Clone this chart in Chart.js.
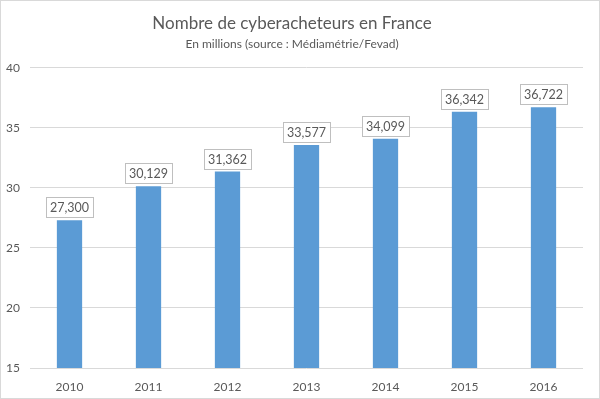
<!DOCTYPE html>
<html>
<head>
<meta charset="utf-8">
<script src="https://cdn.jsdelivr.net/npm/chart.js@4/dist/chart.umd.min.js"></script>
<style>
  html, body { margin: 0; padding: 0; background: #fff; }
  #wrap { width: 598px; height: 397px; border: 1px solid #d9d9d9; position: relative; }
</style>
</head>
<body>
<div id="wrap"><canvas id="graphique"></canvas></div>
<script>
// donnees
const annees = ["2010", "2011", "2012", "2013", "2014", "2015", "2016"];
const cyberacheteurs = [27.300, 30.129, 31.362, 33.577, 34.099, 36.342, 36.722];
const graduations = [15, 20, 25, 30, 35, 40];

const police = "Lato, 'Open Sans', sans-serif";
const gris = "#595959";

// etiquettes de valeur encadrees au-dessus des barres
const etiquettes = {
  id: 'etiquettes',
  afterDatasetsDraw(chart) {
    const ctx = chart.ctx;
    const meta = chart.getDatasetMeta(0);
    ctx.save();
    ctx.font = "12.5px " + police;
    ctx.textAlign = "center";
    ctx.textBaseline = "middle";
    meta.data.forEach((barre, i) => {
      const texte = cyberacheteurs[i].toFixed(3).replace('.', ',');
      const w = ctx.measureText(texte).width + 8;
      const h = 20;
      const x = barre.x - w / 2;
      const y = barre.y - 3 - h;
      ctx.fillStyle = "#fff";
      ctx.fillRect(x, y, w, h);
      ctx.strokeStyle = "#bfbfbf";
      ctx.lineWidth = 1;
      ctx.strokeRect(Math.round(x) + 0.5, Math.round(y) + 0.5, Math.round(w), h);
      ctx.fillStyle = gris;
      ctx.fillText(texte, barre.x, y + h / 2 + 1);
    });
    ctx.restore();
  }
};

new Chart(document.getElementById("graphique"), {
  type: 'bar',
  data: {
    labels: annees,
    datasets: [{
      data: cyberacheteurs,
      backgroundColor: "#5b9bd5",
      barPercentage: 0.32,
      categoryPercentage: 1
    }]
  },
  options: {
    responsive: true,
    maintainAspectRatio: false,
    animation: false,
    layout: { padding: { left: 0, right: 16, bottom: 0 } },
    plugins: {
      legend: { display: false },
      tooltip: { enabled: false },
      title: {
        display: true,
        text: "Nombre de cyberacheteurs en France",
        color: gris,
        font: { family: police, size: 17, weight: 'normal' },
        padding: { top: 12, bottom: 4 }
      },
      subtitle: {
        display: true,
        text: "En millions (source : Médiamétrie/Fevad)",
        color: gris,
        font: { family: police, size: 12 },
        padding: { bottom: 16 }
      }
    },
    scales: {
      x: {
        afterFit: (axe) => { axe.height = 30; },
        grid: { display: false },
        border: { display: false },
        ticks: { color: gris, font: { family: police, size: 12 }, padding: 4 }
      },
      y: {
        min: 15,
        max: 40,
        afterBuildTicks: (axe) => { axe.ticks = graduations.map(v => ({ value: v })); },
        afterFit: (axe) => { axe.width = 29; },
        grid: { color: "#d9d9d9", drawTicks: false },
        border: { display: false },
        ticks: { color: gris, font: { family: police, size: 12 }, padding: 10 }
      }
    }
  },
  plugins: [etiquettes]
});
</script>
</body>
</html>
